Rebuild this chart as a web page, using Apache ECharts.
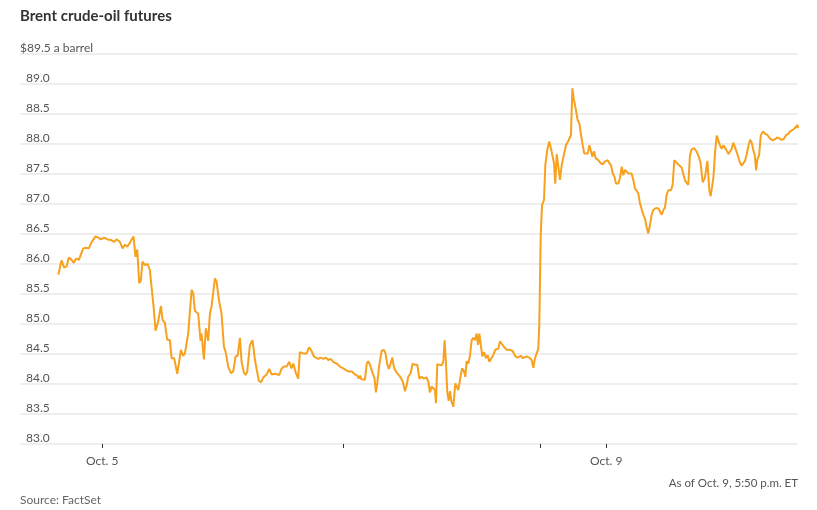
<!DOCTYPE html>
<html>
<head>
<meta charset="utf-8">
<script src="https://cdn.jsdelivr.net/npm/echarts@6/dist/echarts.min.js"></script>
<style>
  html, body { margin: 0; padding: 0; background: #ffffff; }
  #chart { width: 817px; height: 510px; }
</style>
</head>
<body>
<div id="chart"></div>
<script>
// x = trading hours since the Oct. 4, 8 p.m. ET open (daily and weekend breaks removed)
const thuSession = [
  [0, 85.82], [0.29, 86.06], [0.53, 85.94], [0.75, 85.96], [0.96, 86.11], [1.2, 86.07], [1.41, 86.02],
  [1.63, 86.09], [1.87, 86.07], [2.27, 86.26], [2.57, 86.27], [2.78, 86.26], [3.03, 86.36], [3.39, 86.46],
  [3.64, 86.44], [3.88, 86.41], [4.18, 86.44], [4.49, 86.41], [4.79, 86.4], [4.91, 86.42], [5.1, 86.37],
  [5.31, 86.41], [5.61, 86.37], [5.86, 86.26], [6.07, 86.32], [6.31, 86.29], [6.53, 86.36], [6.86, 86.46],
  [7.04, 86.12], [7.2, 86.24], [7.38, 85.68], [7.53, 85.73], [7.68, 86.04], [7.9, 85.98], [8.14, 86.0],
  [8.35, 85.9], [8.53, 85.87], [8.69, 85.29], [8.87, 84.89], [9.11, 85.04], [9.36, 85.3], [9.51, 85.07],
  [9.72, 85.02], [9.93, 84.74], [10.18, 84.73], [10.33, 84.43], [10.57, 84.43], [10.85, 84.17], [11.0, 84.34],
  [11.18, 84.57], [11.39, 84.47], [11.55, 84.51], [11.85, 84.84], [12.16, 85.57], [12.31, 85.51], [12.46, 85.22],
  [12.76, 85.17], [12.98, 84.72], [13.07, 84.84], [13.28, 84.41], [13.46, 84.93], [13.68, 84.72], [13.83, 85.18],
  [13.98, 85.29], [14.29, 85.76], [14.44, 85.71], [14.65, 85.4], [14.89, 85.18], [15.11, 84.62], [15.26, 84.54],
  [15.5, 84.29], [15.75, 84.18], [15.96, 84.21], [16.17, 84.46], [16.36, 84.47], [16.57, 84.77], [16.72, 84.37],
  [16.93, 84.19], [17.11, 84.15], [17.24, 84.21], [17.48, 84.65], [17.72, 84.73], [17.94, 84.4], [18.09, 84.38],
  [18.3, 84.05], [18.49, 84.03], [18.7, 84.11], [18.86, 84.09], [19.01, 84.16], [19.25, 84.25], [19.46, 84.16],
  [19.77, 84.17], [20.16, 84.15], [20.38, 84.26], [20.58, 84.29], [20.83, 84.29], [21.07, 84.37], [21.28, 84.26],
  [21.44, 84.34], [21.68, 84.18], [21.89, 84.09]
];
const friSession = [
  [22.04, 84.53], [22.35, 84.51], [22.65, 84.51], [22.89, 84.61], [23.11, 84.55], [23.32, 84.46], [23.5, 84.47],
  [23.72, 84.42], [23.93, 84.44], [24.18, 84.42], [24.42, 84.44], [24.63, 84.4], [24.85, 84.42], [25.09, 84.37],
  [25.4, 84.34], [25.7, 84.29], [26.0, 84.26], [26.25, 84.23], [26.46, 84.21], [26.77, 84.21], [27.07, 84.16],
  [27.28, 84.14], [27.4, 84.09], [27.53, 84.14], [27.65, 84.08], [27.83, 84.11], [27.98, 84.07], [28.14, 84.34],
  [28.28, 84.38], [28.44, 84.32], [28.59, 84.23], [28.74, 84.25], [28.86, 84.09], [28.98, 83.86], [29.1, 84.01],
  [29.29, 84.32], [29.5, 84.55], [29.71, 84.57], [29.86, 84.51], [30.01, 84.33], [30.17, 84.25], [30.32, 84.34],
  [30.48, 84.44], [30.63, 84.27], [30.87, 84.19], [31.12, 84.14], [31.33, 84.08], [31.48, 84.01], [31.63, 83.88],
  [31.78, 83.97], [31.93, 84.12], [32.15, 84.18], [32.33, 84.34], [32.54, 84.32], [32.76, 84.32], [32.94, 84.09],
  [33.15, 84.12], [33.36, 84.09], [33.6, 84.11], [33.76, 84.04], [33.91, 83.86], [34.06, 83.96], [34.22, 83.98],
  [34.37, 83.9], [34.46, 83.68], [34.58, 84.33], [34.76, 84.32], [34.98, 84.31], [35.13, 84.37], [35.25, 84.73],
  [35.37, 84.37], [35.49, 83.87], [35.62, 83.72], [35.74, 83.88], [35.86, 83.72], [36.04, 83.62], [36.23, 84.01],
  [36.35, 84.01], [36.5, 83.9], [36.65, 84.07], [36.84, 84.26], [37.02, 84.21], [37.14, 84.12], [37.26, 84.38],
  [37.41, 84.34], [37.57, 84.48], [37.72, 84.73], [37.87, 84.77], [38.02, 84.73], [38.18, 84.84], [38.3, 84.65],
  [38.42, 84.84], [38.54, 84.87], [38.69, 84.46], [38.84, 84.53], [39.03, 84.43], [39.18, 84.48], [39.33, 84.37],
  [39.51, 84.38], [39.69, 84.48], [39.87, 84.57], [40.15, 84.59], [40.3, 84.71], [40.46, 84.73], [40.67, 84.62],
  [40.91, 84.57], [41.21, 84.57], [41.46, 84.55], [41.67, 84.47], [41.88, 84.44], [42.06, 84.43], [42.22, 84.47],
  [42.37, 84.43], [42.52, 84.4], [42.74, 84.46], [42.98, 84.44], [43.19, 84.4], [43.35, 84.27], [43.5, 84.43],
  [43.65, 84.44], [43.8, 84.59], [43.89, 84.98]
];
const monSession = [
  [44.02, 86.48], [44.14, 86.98], [44.32, 87.07], [44.44, 87.65], [44.62, 87.9], [44.8, 88.04], [44.96, 87.92],
  [45.11, 87.93], [45.23, 87.68], [45.35, 87.34], [45.48, 87.83], [45.63, 87.62], [45.78, 87.4], [45.93, 87.64],
  [46.08, 87.66], [46.32, 87.98], [46.54, 88.05], [46.69, 88.07], [46.78, 88.15], [46.91, 88.93], [47.03, 88.76],
  [47.21, 88.59], [47.39, 88.4], [47.55, 88.34], [47.7, 88.15], [47.85, 87.98], [48.0, 87.84], [48.16, 87.82],
  [48.31, 87.84], [48.46, 87.98], [48.61, 87.96], [48.73, 87.79], [48.88, 87.88], [49.04, 87.76], [49.28, 87.73],
  [49.49, 87.68], [49.68, 87.66], [49.89, 87.71], [50.13, 87.73], [50.28, 87.74], [50.44, 87.64], [50.59, 87.51],
  [50.74, 87.46], [50.89, 87.34], [51.1, 87.34], [51.25, 87.43], [51.41, 87.62], [51.56, 87.48], [51.71, 87.57],
  [51.86, 87.58], [52.01, 87.51], [52.16, 87.49], [52.31, 87.51], [52.47, 87.4], [52.62, 87.26], [52.77, 87.23],
  [52.92, 87.18], [53.08, 87.01], [53.23, 87.01], [53.38, 86.82], [53.53, 86.76], [53.68, 86.62], [53.84, 86.51],
  [53.99, 86.65], [54.14, 86.82], [54.29, 86.9], [54.51, 86.93], [54.75, 86.93], [54.9, 86.96], [55.06, 86.82],
  [55.21, 86.9], [55.36, 86.94], [55.51, 87.15], [55.66, 87.23], [55.91, 87.23], [56.06, 87.32], [56.21, 87.73],
  [56.36, 87.73], [56.58, 87.66], [56.88, 87.61], [57.03, 87.5], [57.19, 87.39], [57.34, 87.42], [57.49, 87.32],
  [57.64, 87.81], [57.79, 87.91], [58.01, 87.93], [58.19, 87.89], [58.4, 87.81], [58.61, 87.69], [58.8, 87.36],
  [59.01, 87.44], [59.23, 87.72], [59.41, 87.22], [59.53, 87.13], [59.65, 87.11], [59.78, 87.44], [59.93, 87.86],
  [60.08, 88.14], [60.23, 88.06], [60.39, 87.97], [60.54, 87.92], [60.69, 87.98], [60.84, 88.0], [61.0, 87.89],
  [61.15, 87.83], [61.3, 87.86], [61.45, 87.92], [61.6, 88.02], [61.76, 88.0], [61.97, 87.83], [62.15, 87.72],
  [62.34, 87.64], [62.52, 87.63], [62.67, 87.72], [62.82, 87.83], [62.98, 87.97], [63.13, 88.07], [63.28, 88.02],
  [63.43, 87.89], [63.56, 87.81], [63.68, 87.56], [63.8, 87.75], [63.95, 87.81], [64.1, 88.14], [64.29, 88.21],
  [64.5, 88.17], [64.71, 88.15], [64.95, 88.09], [65.2, 88.06], [65.41, 88.08], [65.62, 88.11], [65.8, 88.11],
  [66.02, 88.07], [66.23, 88.09], [66.41, 88.15], [66.63, 88.17], [66.78, 88.21], [66.96, 88.21], [67.14, 88.25],
  [67.29, 88.26], [67.45, 88.32], [67.5, 88.26]
];

// axis ticks: Oct. 5 midnight, Oct. 6 midnight, weekend break, Oct. 9 midnight
const tickHours = [4, 26, 44, 50];
const tickLabels = { 4: 'Oct. 5', 50: 'Oct. 9' };
const yMin = 83, yMax = 89.5, yStep = 0.5;

const font = 'Lato, "Noto Sans", sans-serif';
let chart = echarts.init(document.getElementById('chart'));
chart.setOption({
  animation: false,
  textStyle: { fontFamily: font },
  title: [
    {
      text: 'Brent crude-oil futures',
      left: 15, top: 4,
      textStyle: { fontSize: 15, fontWeight: 'bold', color: '#333333', fontFamily: font }
    },
    {
      text: 'Source: FactSet',
      left: 15, top: 489,
      textStyle: { fontSize: 12, fontWeight: 'normal', color: '#666666', fontFamily: font }
    },
    {
      text: 'As of Oct. 9, 5:50 p.m. ET',
      right: 14, top: 472,
      textStyle: { fontSize: 11.5, fontWeight: 'normal', color: '#555555', fontFamily: font }
    }
  ],
  grid: { left: 20, right: 19, top: 54, bottom: 66 },
  xAxis: {
    type: 'value',
    min: -3.5,
    max: 67.5,
    splitLine: { show: false },
    axisLine: { show: false },
    axisTick: {
      show: true,
      customValues: tickHours,
      length: 4,
      lineStyle: { color: '#333333', width: 1 }
    },
    axisLabel: {
      customValues: [4, 50],
      formatter: (v) => tickLabels[v] || '',
      color: '#555555',
      fontSize: 12,
      margin: 11
    }
  },
  yAxis: {
    type: 'value',
    min: yMin,
    max: yMax,
    interval: yStep,
    axisLine: { show: false },
    axisTick: { show: false },
    splitLine: { lineStyle: { color: '#eeeeee', width: 2 } },
    axisLabel: {
      inside: true,
      margin: 0,
      verticalAlign: 'bottom',
      formatter: (v) => v === yMax ? '{u|$' + v.toFixed(1) + ' a barrel}' : '{n|' + v.toFixed(1) + '}',
      rich: {
        u: { fontSize: 12, color: '#555555', padding: [0, 0, 0, 0], fontFamily: font },
        n: { fontSize: 12, color: '#555555', padding: [0, 0, 0, 6], fontFamily: font }
      }
    }
  },
  series: [
    {
      type: 'line',
      data: thuSession.concat(friSession, monSession),
      showSymbol: false,
      lineStyle: { color: '#F7A11E', width: 2 },
      itemStyle: { color: '#F7A11E' }
    }
  ]
});
</script>
</body>
</html>
